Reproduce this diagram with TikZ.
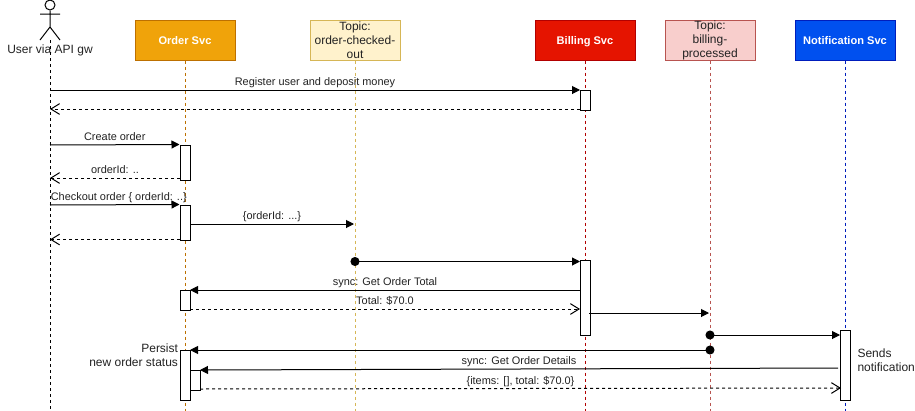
\documentclass[tikz,border=0pt]{standalone}
\usepackage{fontspec}
\setmainfont{Liberation Sans}
\usetikzlibrary{arrows.meta}

\definecolor{ordfill}{HTML}{F0A30A}
\definecolor{ordline}{HTML}{BD7000}
\definecolor{topafill}{HTML}{FFF2CC}
\definecolor{topaline}{HTML}{D6B656}
\definecolor{billfill}{HTML}{E51400}
\definecolor{billline}{HTML}{B20000}
\definecolor{topbfill}{HTML}{F8CECC}
\definecolor{topbline}{HTML}{B85450}
\definecolor{notifill}{HTML}{0050EF}
\definecolor{notiline}{HTML}{001DBC}
\definecolor{txt}{HTML}{222222}

\begin{document}
\begin{tikzpicture}[x=0.75pt,y=-0.75pt,line width=0.75pt]
	\tikzstyle{head}=[draw,minimum height=30pt,inner sep=0pt,align=center,text=txt,font=\fontsize{9}{10.5}\selectfont]
	\tikzstyle{svc}=[head,minimum width=75pt,text=white,text height=7pt,text depth=1pt,font=\fontsize{8.3}{10.5}\selectfont\bfseries]
	\tikzstyle{topic}=[head,minimum width=67.5pt]
	\tikzstyle{life}=[dashed,dash pattern=on 2.25pt off 2.25pt]
	\tikzstyle{bar}=[draw,fill=white,minimum width=7.5pt,inner sep=0pt,minimum height=#1*0.75pt]
	\tikzstyle{msg}=[above,inner sep=0.8pt,text=txt,text height=6pt,text depth=2pt,font=\fontsize{8.2}{9.5}\selectfont]
	\tikzstyle{note}=[inner sep=0pt,align=left,text=txt,font=\fontsize{9}{10.5}\selectfont]
	\tikzstyle{call}=[-{Triangle[length=6pt,width=6pt]}]
	\tikzstyle{reply}=[life,-{Straight Barb[length=6.5pt,width=8pt]}]
	\tikzstyle{pub}=[{Circle[length=6.75pt]}-{Triangle[length=6pt,width=6pt]},shorten <=-3.375pt]

	\useasboundingbox (0,0) rectangle (915,411);

	% actor
	\node[draw,circle,minimum size=7.5pt,inner sep=0pt] (head) at (50,5) {};
	\coordinate (hip) at (50,27);
	\coordinate (armL) at (40,14);
	\coordinate (armR) at (60,14);
	\coordinate (legL) at (40,40);
	\coordinate (legR) at (60,40);
	\coordinate (usertop) at (50,40);
	\draw (head) -- (hip) (armL) -- (armR) (legL) -- (hip) -- (legR);
	\node[note,align=center] (user) at (50,50.5) {User via API gw};

	% heads
	\node[svc,fill=ordfill,draw=ordline] (order) at (185,40) {Order Svc};
	\node[topic,fill=topafill,draw=topaline] (checked) at (355,40) {Topic:\\order-checked-\\out};
	\node[svc,fill=billfill,draw=billline] (billing) at (585,40) {Billing Svc};
	\node[topic,fill=topbfill,draw=topbline] (processed) at (710,40) {Topic:\\billing-\\processed};
	\node[svc,fill=notifill,draw=notiline] (notif) at (845,40) {Notification Svc};

	% lifelines
	\coordinate (userend) at (50,411);
	\coordinate (orderend) at (185,411);
	\coordinate (checkedend) at (355,411);
	\coordinate (billingend) at (585,411);
	\coordinate (processedend) at (710,411);
	\coordinate (notifend) at (845,411);
	\draw[life] (usertop) -- (userend);
	\draw[life,draw=ordline] (order) -- (orderend);
	\draw[life,draw=topaline] (checked) -- (checkedend);
	\draw[life,draw=billline] (billing) -- (billingend);
	\draw[life,draw=topbline] (processed) -- (processedend);
	\draw[life,draw=notiline] (notif) -- (notifend);

	% activations
	\node[bar=20] (bill1) at (585,100) {};
	\node[bar=35] (ord1) at (185,162.5) {};
	\node[bar=35] (ord2) at (185,222.5) {};
	\node[bar=75] (bill2) at (585,297.5) {};
	\node[bar=20] (ord3) at (185,300) {};
	\node[bar=50] (ord4) at (185,375) {};
	\node[bar=20] (ord5) at (195,380) {};
	\node[bar=70] (noti1) at (845,365) {};

	% free ends on the lifelines
	\coordinate (u1) at (50,90);
	\coordinate (u2) at (50,109);
	\coordinate (u3) at (50,145);
	\coordinate (u4) at (50,178);
	\coordinate (u5) at (50,205);
	\coordinate (u6) at (50,239.5);
	\coordinate (b1) at (580,90);
	\coordinate (b2) at (580,109);
	\coordinate (b3) at (580,261.5);
	\coordinate (b4) at (580,290);
	\coordinate (b5) at (580,309);
	\coordinate (b6) at (589,313);
	\coordinate (o1) at (180,178);
	\coordinate (o2) at (180,239.5);
	\coordinate (o3) at (190,224);
	\coordinate (o4) at (190,290);
	\coordinate (o5) at (190,309);
	\coordinate (o6) at (190,350);
	\coordinate (o7) at (200,370);
	\coordinate (o8) at (200,389);
	\coordinate (t1) at (354,224);
	\coordinate (t2) at (355,261.5);
	\coordinate (p1) at (709,313);
	\coordinate (p2) at (710,335);
	\coordinate (p3) at (710,350);
	\coordinate (n1) at (840,335);
	\coordinate (n2) at (838,368);
	\coordinate (n3) at (841,388);

	% messages
	\draw[call] (u1) -- node[msg] {Register user and deposit money} (b1);
	\draw[reply] (b2) -- (u2);
	\draw[call] (u3) -- node[msg] {Create order} (ord1.north west);
	\draw[reply] (o1) -- node[msg] {orderId: ..} (u4);
	\draw[call] (u5) -- node[msg,xshift=3pt] {Checkout order \{ orderId: ..\}} (ord2.north west);
	\draw[reply] (o2) -- (u6);
	\draw[call] (o3) -- node[msg] {\{orderId: ...\}} (t1);
	\draw[pub] (t2) -- (b3);
	\draw[call] (b4) -- node[msg] {sync: Get Order Total} (o4);
	\draw[reply] (o5) -- node[msg] {Total: \$70.0} (b5);
	\draw[call] (b6) -- (p1);
	\draw[pub] (p2) -- (n1);
	\draw[pub] (p3) -- (o6);
	\draw[call] (n2) -- node[msg] {sync: Get Order Details} (o7);
	\draw[reply] (o8) -- node[msg] {\{items: [], total: \$70.0\}} (n3);

	% side notes
	\node[note,align=right,anchor=east] (persist) at (178.5,355) {Persist\\new order status};
	\node[note,anchor=west] (sends) at (857,360) {Sends\\notification};
\end{tikzpicture}
\end{document}
